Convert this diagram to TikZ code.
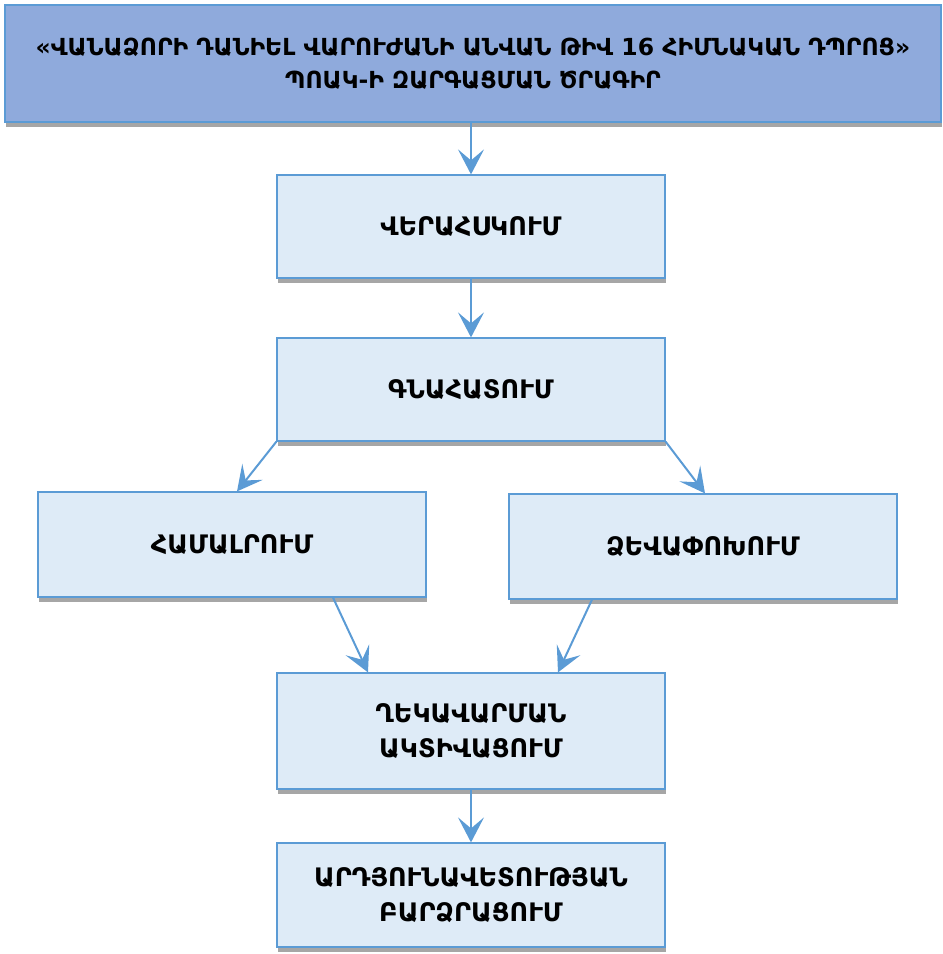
\documentclass[tikz,border=0pt]{standalone}
\usepackage{fontspec}
\setmainfont{DejaVu Sans}
\usetikzlibrary{arrows.meta,shadows,calc}
\definecolor{titlefill}{HTML}{8FAADC}
\definecolor{boxfill}{HTML}{DEEBF7}
\definecolor{edgeblue}{HTML}{5B9BD5}
\definecolor{shadowgray}{HTML}{A6A6A6}
\begin{document}
\begin{tikzpicture}[x=1pt,y=-1pt,
  boxbase/.style={draw=edgeblue, line width=1.2pt, fill=boxfill, inner sep=0pt, align=center,
    font=\bfseries\fontsize{25.5}{35}\selectfont,
    general shadow={fill=shadowgray, shadow xshift=1pt, shadow yshift=-5pt}},
  stepbox/.style={boxbase, minimum width=388pt, minimum height=103pt},
  titlebox/.style={boxbase, fill=titlefill, minimum width=936pt, minimum height=117pt, font=\bfseries\fontsize{23.5}{33}\selectfont},
  conn/.style={draw=edgeblue, line width=2pt, -{Stealth[length=25pt,width=26pt,inset=11pt]}}]
\useasboundingbox (0,0) rectangle (943,954);
\node[titlebox] (t) at (473,63.5) {«ՎԱՆԱՁՈՐԻ ԴԱՆԻԵԼ ՎԱՐՈՒԺԱՆԻ ԱՆՎԱՆ ԹԻՎ 16 ՀԻՄՆԱԿԱՆ ԴՊՐՈՑ»\\ ՊՈԱԿ-Ի ԶԱՐԳԱՑՄԱՆ ԾՐԱԳԻՐ};
\node[stepbox] (b1) at (471,226.5) {ՎԵՐԱՀՍԿՈՒՄ};
\node[stepbox] (b2) at (471,389.5) {ԳՆԱՀԱՏՈՒՄ};
\node[stepbox, minimum height=105pt] (b3) at (232,544.5) {ՀԱՄԱԼՐՈՒՄ};
\node[stepbox, minimum height=105pt] (b4) at (703,546.5) {ՁԵՎԱՓՈԽՈՒՄ};
\node[stepbox, minimum height=116pt] (b5) at (471,731) {ՂԵԿԱՎԱՐՄԱՆ\\ԱԿՏԻՎԱՑՈՒՄ};
\node[stepbox, minimum height=104pt] (b6) at (471,895) {ԱՐԴՅՈՒՆԱՎԵՏՈՒԹՅԱՆ\\ԲԱՐՁՐԱՑՈՒՄ};
\draw[conn] (t.south -| b1.north) -- (b1.north);
\draw[conn] (b1.south) -- (b2.north);
\draw[conn] (b2.south west) -- ($(b3.north)+(5,0)$);
\draw[conn] (b2.south east) -- ($(b4.north)+(2,0)$);
\draw[conn] ($(b3.south)+(101,0)$) -- ($(b5.north)+(-103,0)$);
\draw[conn] ($(b4.south)+(-111,0)$) -- ($(b5.north)+(87,0)$);
\draw[conn] (b5.south) -- (b6.north);
\end{tikzpicture}
\end{document}
